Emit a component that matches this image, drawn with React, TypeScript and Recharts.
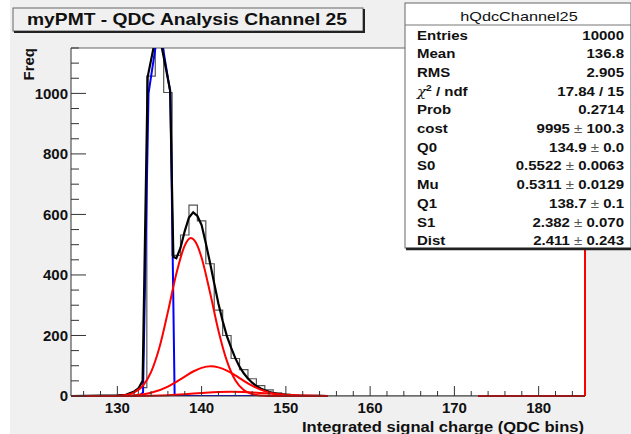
import React from 'react';
import { ComposedChart, Line, XAxis, YAxis, ReferenceLine, CartesianGrid } from 'recharts';

const FONT = '"Liberation Sans", Arial, Helvetica, sans-serif';

// ---- data ----
const binCenters = [133, 134, 135, 136, 137, 138, 139, 140, 141, 142, 143, 144, 145, 146, 147, 148, 149, 150, 151, 152];
const binCounts = [28, 1057, 4400, 1003, 465, 532, 631, 579, 437, 284, 200, 124, 87, 57, 34, 20, 10, 6, 3, 1];

const totalFit: [number, number][] = [
  [124.5, 0], [130, 2], [131, 4], [132, 15], [132.5, 25], [133.0, 50], [133.6, 1055], [134.8, 1220],
  [136.26, 1011], [136.65, 460], [137.0, 455], [137.5, 490], [138.0, 545], [138.5, 590], [139.0, 607],
  [139.5, 595], [140.0, 565], [140.5, 505], [141.0, 440], [141.5, 372], [142.0, 305], [142.5, 248],
  [143.0, 198], [143.5, 160], [144.0, 125], [144.5, 97], [145.0, 75], [145.5, 58], [146.0, 44],
  [146.5, 33], [147.0, 25], [147.5, 19], [148.0, 14], [148.5, 10], [149.0, 7], [150, 3.5], [151, 1.5],
  [152, 0.7], [154, 0.2], [155, 0],
];

const pedestal: [number, number][] = [
  [124.5, 0], [132.6, 0], [133.05, 12], [133.7, 1000], [134.95, 1230], [136.3, 1000], [136.8, 0], [155, 0],
];

const onePe: [number, number][] = [
  [124.5, 0], [129, 0.3], [130, 1], [131, 3.5], [132, 12], [133, 33], [134, 79], [135, 161], [136, 278],
  [137, 404], [138, 497], [138.7, 522], [139.5, 497], [140, 457], [141, 342], [142, 216], [143, 116],
  [144, 52], [145, 20], [146, 6.5], [147, 1.8], [148, 0.4], [150, 0], [155, 0],
];

const twoPe: [number, number][] = [
  [124.5, 0], [128, 0.1], [130, 0.4], [132, 2.5], [134, 10.6], [136, 31], [137, 47], [138, 64], [139, 81],
  [140, 93], [141.1, 98], [142, 94.6], [143, 84], [144, 68], [145, 50], [146, 34], [147, 21], [148, 12],
  [149, 6], [150, 3], [152, 0.5], [155, 0],
];

const threePe: [number, number][] = [
  [124.5, 0], [130, 0.1], [132, 0.3], [134, 1], [136, 2.7], [138, 5.8], [140, 9.9], [142, 13.3],
  [143.5, 14.2], [145, 13.3], [147, 9.9], [149, 5.8], [151, 2.7], [153, 1], [155, 0.3],
];

const tailSegment: [number, number][] = [[172.8, 0], [185.5, 0]];

const xTicks = [126, 128, 130, 132, 134, 136, 138, 140, 142, 144, 146, 148, 150, 152, 154, 156, 158, 160, 162, 164, 166, 168, 170, 172, 174, 176, 178, 180, 182, 184];
const yTicks = [0, 50, 100, 150, 200, 250, 300, 350, 400, 450, 500, 550, 600, 650, 700, 750, 800, 850, 900, 950, 1000, 1050, 1100, 1150];

const statsTitle = 'hQdcChannel25';
const statLabels = ['Entries', 'Mean', 'RMS', 'CHI', 'Prob', 'cost', 'Q0', 'S0', 'Mu', 'Q1', 'S1', 'Dist'];
const statValues = ['10000', '136.8', '2.905', '17.84 / 15', '0.2714', '9995', '134.9', '0.5522', '0.5311', '138.7', '2.382', '2.411'];
const statErrors = ['', '', '', '', '', '100.3', '0.0', '0.0063', '0.0129', '0.1', '0.070', '0.243'];

const X_MIN = 124.5;
const X_MAX = 185.5;
const Y_MAX = 1150;

const toPts = (arr: [number, number][]) => arr.map(([x, y]) => ({ x, y }));

const histOutline = (() => {
  const pts: { x: number; y: number }[] = [{ x: X_MIN, y: 0 }, { x: binCenters[0] - 0.5, y: 0 }];
  binCenters.forEach((c, i) => {
    pts.push({ x: c - 0.5, y: binCounts[i] });
    pts.push({ x: c + 0.5, y: binCounts[i] });
  });
  pts.push({ x: binCenters[binCenters.length - 1] + 0.5, y: 0 });
  pts.push({ x: X_MAX, y: 0 });
  return pts;
})();

const XTick = (props: any) => {
  const { x, y, payload } = props;
  const v = payload.value;
  const major = v % 10 === 0;
  return (
    <g>
      <line x1={x} x2={x} y1={y} y2={y - (major ? 10 : 5)} stroke="#333" strokeWidth={1} />
      {major && (
        <text x={x} y={y + 16.5} textAnchor="middle" fontFamily={FONT} fontWeight="bold" fontSize={15} fill="#111">
          {v}
        </text>
      )}
    </g>
  );
};

const YTick = (props: any) => {
  const { x, y, payload } = props;
  const v = payload.value;
  const major = v % 200 === 0;
  return (
    <g>
      <line x1={x} x2={x + (major ? 15 : 8)} y1={y} y2={y} stroke="#333" strokeWidth={1} />
      {major && (
        <text x={x - 3} y={y + 5.3} textAnchor="end" fontFamily={FONT} fontWeight="bold" fontSize={15} fill="#111">
          {v}
        </text>
      )}
    </g>
  );
};

const Overlay = () => {
  const rowY0 = 39.5;
  const rowStep = 18.7;
  return (
    <svg width={631} height={434} style={{ position: 'absolute', left: 0, top: 0, pointerEvents: 'none' }}>
      {/* title box */}
      <rect x={13} y={8} width={350} height={23} fill="#f0f0f0" stroke="#666" strokeWidth={1} />
      <line x1={14} x2={365} y1={32} y2={32} stroke="#222" strokeWidth={2} />
      <line x1={364} x2={364} y1={9} y2={33} stroke="#222" strokeWidth={2} />
      <text x={27} y={25} fontFamily={FONT} fontWeight="bold" fontSize={17} fill="#111" textLength={320} lengthAdjust="spacingAndGlyphs">
        myPMT - QDC Analysis Channel 25
      </text>

      {/* stats box */}
      <rect x={405} y={3} width={226} height={245} fill="#ffffff" stroke="#666" strokeWidth={1} />
      <line x1={406} x2={631} y1={249} y2={249} stroke="#222" strokeWidth={2.5} />
      <line x1={405} x2={631} y1={25} y2={25} stroke="#777" strokeWidth={1} />
      <g transform="translate(519,20.5) scale(1.25,1)">
        <text x={0} y={0} textAnchor="middle" fontFamily={FONT} fontSize={13} fill="#111">{statsTitle}</text>
      </g>
      {statLabels.map((lab, i) => {
        const y = rowY0 + i * rowStep;
        return (
          <g key={lab}>
            <g transform={`translate(417,${y}) scale(1.2,1)`}>
              {lab === 'CHI' ? (
                <text x={0} y={0} fontFamily={FONT} fontWeight="bold" fontSize={12.5} fill="#111">
                  <tspan fontStyle="italic" fontWeight="normal" fontFamily='"DejaVu Serif", serif'>χ</tspan>
                  <tspan fontSize={8.5} dy={-5}>2</tspan>
                  <tspan dy={5}> / ndf</tspan>
                </text>
              ) : (
                <text x={0} y={0} fontFamily={FONT} fontWeight="bold" fontSize={12.5} fill="#111">{lab}</text>
              )}
            </g>
            <g transform={`translate(624,${y}) scale(1.2,1)`}>
              <text x={0} y={0} textAnchor="end" fontFamily={FONT} fontWeight="bold" fontSize={12.5} fill="#111">
                {statValues[i]}
                {statErrors[i] !== '' && (
                  <>
                    <tspan fontWeight="normal" fill="#555">{' \u00B1 '}</tspan>
                    <tspan>{statErrors[i]}</tspan>
                  </>
                )}
              </text>
            </g>
          </g>
        );
      })}

      {/* axis titles */}
      <text x={584} y={432} textAnchor="end" fontFamily={FONT} fontWeight="bold" fontSize={15} fill="#111" textLength={282} lengthAdjust="spacingAndGlyphs">
        Integrated signal charge (QDC bins)
      </text>
      <text transform="translate(34,48) rotate(-90)" x={0} y={0} textAnchor="end" fontFamily={FONT} fontWeight="bold" fontSize={15} fill="#111">
        Freq
      </text>
    </svg>
  );
};

export default function App() {
  return (
    <div style={{ position: 'absolute', left: 0, top: 0, width: 631, height: 434, background: '#ffffff' }}>
      <div style={{ position: 'absolute', left: 10, top: 0, width: 621, height: 434, background: '#f0f0f0' }} />
      <div style={{ position: 'absolute', left: 0, top: 0 }}>
        <ComposedChart width={631} height={434} margin={{ top: 48, right: 46, bottom: 0, left: 0 }}>
          <CartesianGrid yAxisId="main" fill="#ffffff" horizontal={false} vertical={false} stroke="none" />
          <XAxis
            dataKey="x"
            type="number"
            domain={[X_MIN, X_MAX]}
            ticks={xTicks}
            interval={0}
            height={38}
            tickSize={0}
            tickMargin={0}
            tickLine={false}
            axisLine={{ stroke: '#333', strokeWidth: 1 }}
            tick={<XTick />}
          />
          <YAxis
            yAxisId="main"
            orientation="left"
            type="number"
            domain={[0, Y_MAX]}
            ticks={yTicks}
            interval={0}
            allowDataOverflow
            width={71}
            tickSize={0}
            tickMargin={0}
            tickLine={false}
            axisLine={{ stroke: '#333', strokeWidth: 1 }}
            tick={<YTick />}
          />
          <YAxis yAxisId="comp" orientation="right" type="number" domain={[0, Y_MAX]} hide />
          <ReferenceLine yAxisId="main" y={Y_MAX} stroke="#666" strokeWidth={1} />
          <Line yAxisId="main" data={histOutline} dataKey="y" type="linear" stroke="#555" strokeWidth={1.2} dot={false} isAnimationActive={false} />
          <Line yAxisId="main" data={toPts(pedestal)} dataKey="y" type="linear" stroke="#0000ff" strokeWidth={2} dot={false} isAnimationActive={false} />
          <Line yAxisId="main" data={toPts(totalFit)} dataKey="y" type="linear" stroke="#000000" strokeWidth={2.2} dot={false} isAnimationActive={false} />
          <Line yAxisId="comp" data={toPts(onePe)} dataKey="y" type="monotone" stroke="#ff0000" strokeWidth={2} dot={false} isAnimationActive={false} />
          <Line yAxisId="comp" data={toPts(twoPe)} dataKey="y" type="monotone" stroke="#ff0000" strokeWidth={2} dot={false} isAnimationActive={false} />
          <Line yAxisId="comp" data={toPts(threePe)} dataKey="y" type="monotone" stroke="#ff0000" strokeWidth={2} dot={false} isAnimationActive={false} />
          <Line yAxisId="comp" data={toPts(tailSegment)} dataKey="y" type="linear" stroke="#ff0000" strokeWidth={2} dot={false} isAnimationActive={false} />
          <ReferenceLine yAxisId="comp" x={X_MAX} stroke="#ff0000" strokeWidth={2} />
        </ComposedChart>
      </div>
      <Overlay />
    </div>
  );
}
